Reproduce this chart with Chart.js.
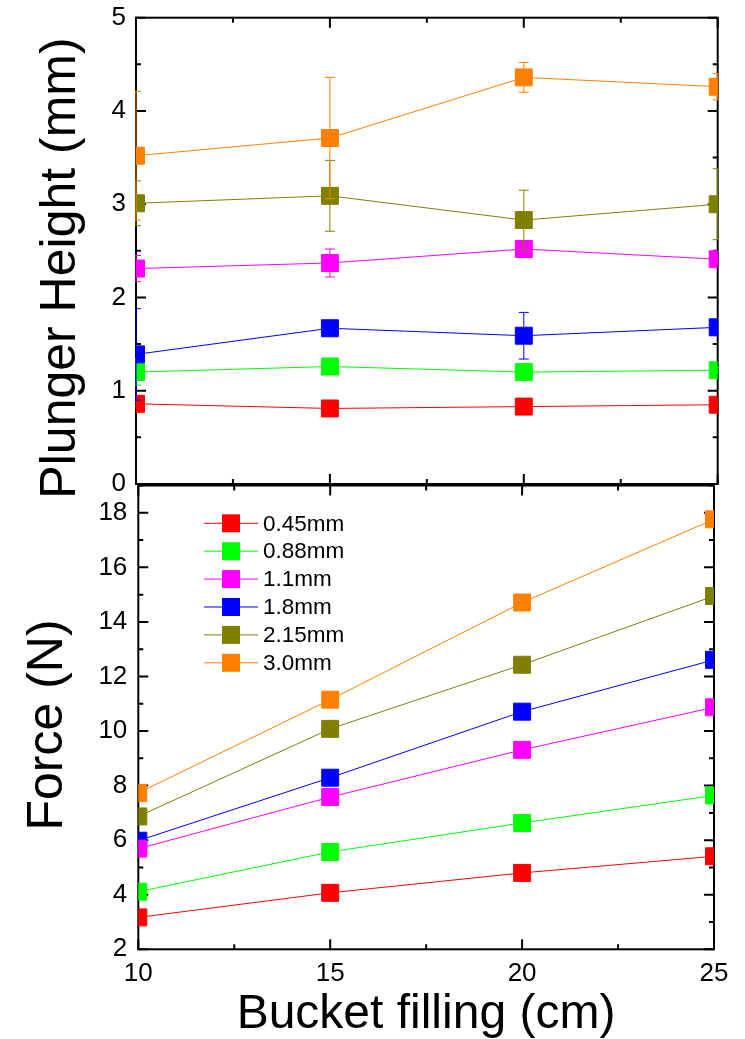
<!DOCTYPE html>
<html>
<head>
<meta charset="utf-8">
<title>Plunger height and force vs bucket filling</title>
<script src="https://cdn.jsdelivr.net/npm/chart.js@4/dist/chart.umd.min.js"></script>
<style>
  body { margin: 0; background: #fff; }
  #wrap { position: relative; width: 745px; height: 1039px; }
  #plungerChart { position: absolute; left: 0; top: 0; }
  #forceChart { position: absolute; left: 0; top: 470px; }
</style>
</head>
<body>
<div id="wrap">
  <canvas id="plungerChart" width="745" height="500"></canvas>
  <canvas id="forceChart" width="745" height="569"></canvas>
</div>
<script>

// bucket filling levels (cm) and the six plunger diameters
var fillLevels = [10, 15, 20, 25];
var fillTicks = [10, 15, 20, 25];
var seriesNames = ["0.45mm", "0.88mm", "1.1mm", "1.8mm", "2.15mm", "3.0mm"];
var seriesColors = ["#ff0000", "#00ff00", "#ff00ff", "#0000ff", "#808000", "#ff8000"];

// plunger height (mm), mean values
var height045 = [0.86, 0.81, 0.83, 0.85];
var height088 = [1.20, 1.26, 1.20, 1.22];
var height110 = [2.31, 2.37, 2.52, 2.41];
var height180 = [1.39, 1.67, 1.59, 1.68];
var height215 = [3.01, 3.09, 2.83, 3.00];
var height300 = [3.52, 3.71, 4.36, 4.26];

// plunger height (mm), +/- error
var heightErr045 = [0.03, 0.03, 0.03, 0.03];
var heightErr088 = [0.14, 0.03, 0.03, 0.03];
var heightErr110 = [0.14, 0.15, 0.05, 0.05];
var heightErr180 = [0.49, 0.05, 0.25, 0.05];
var heightErr215 = [0.24, 0.38, 0.32, 0.38];
var heightErr300 = [0.69, 0.65, 0.16, 0.14];
var heightTicks = [0, 1, 2, 3, 4, 5];

// force (N)
var force045 = [3.17, 4.07, 4.80, 5.41];
var force088 = [4.11, 5.57, 6.63, 7.64];
var force110 = [5.69, 7.58, 9.31, 10.87];
var force180 = [5.98, 8.29, 10.71, 12.61];
var force215 = [6.87, 10.08, 12.43, 14.95];
var force300 = [7.73, 11.15, 14.71, 17.76];
var forceTicks = [2, 4, 6, 8, 10, 12, 14, 16, 18];

var FONT = "'Liberation Sans', Arial, Helvetica, sans-serif";
Chart.defaults.font.family = FONT;
Chart.defaults.color = "#000";


function points(ys){
    return fillLevels.map(function (x, i) { return {x: x, y: ys[i]}; });
}

function make_datasets(values, errors, lastOnTop){
    return values.map(function (ys, i) {
        return {
            label: seriesNames[i],
            data: points(ys),
            errors: errors ? errors[i] : null,
            borderColor: seriesColors[i],
            backgroundColor: seriesColors[i],
            borderWidth: 1,
            fill: false,
            tension: 0,
            pointStyle: "rect",
            pointRadius: 12,
            pointHoverRadius: 12,
            pointBorderWidth: 1,
            pointBackgroundColor: seriesColors[i],
            pointBorderColor: seriesColors[i],
            order: lastOnTop ? values.length - i : 0,
            clip: {left: 0, right: 0, top: 10, bottom: 10}
        };
    });
}

function fixed_ticks(list){
    return function (scale) {
        scale.ticks = list.map(function (v) { return {value: v}; });
    };
}

// pin an axis box to a fixed size and drop the label overhang padding
function pin_size(key, size){
    return function (scale) {
        scale[key] = size;
        scale.paddingTop = 0;
        scale.paddingBottom = 0;
        scale.paddingLeft = 0;
        scale.paddingRight = 0;
    };
}

function is_major(v, step){
    var r = v / step;
    return Math.abs(r - Math.round(r)) < 1e-6;
}

// box frame with inward ticks on all four sides
var framePlugin = {
    id: "frame",
    beforeDatasetsDraw: function (chart, args, opts) {
        var ctx = chart.ctx, a = chart.chartArea;
        var xs = chart.scales.x, ys = chart.scales.y;
        var v, p, len;
        ctx.save();
        ctx.strokeStyle = "#000";
        ctx.lineWidth = 2;
        ctx.strokeRect(a.left, a.top, a.right - a.left, a.bottom - a.top);
        ctx.beginPath();
        for (v = xs.min; v <= xs.max + 1e-9; v += opts.xMinor) {
            len = is_major(v, opts.xMajor) ? 10 : 5;
            p = xs.getPixelForValue(v);
            ctx.moveTo(p, a.bottom); ctx.lineTo(p, a.bottom - len);
            ctx.moveTo(p, a.top); ctx.lineTo(p, a.top + len);
        }
        for (v = ys.min; v <= ys.max + 1e-9; v += opts.yMinor) {
            len = is_major(v, opts.yMajor) ? 10 : 5;
            p = ys.getPixelForValue(v);
            ctx.moveTo(a.left, p); ctx.lineTo(a.left + len, p);
            ctx.moveTo(a.right, p); ctx.lineTo(a.right - len, p);
        }
        ctx.stroke();
        ctx.restore();
    }
};

// vertical error bars with caps, drawn right after their own series
var errorBarPlugin = {
    id: "errorBars",
    afterDatasetDraw: function (chart, args) {
        var ds = chart.data.datasets[args.index];
        if (!ds.errors) return;
        var ctx = chart.ctx, a = chart.chartArea;
        var xs = chart.scales.x, ys = chart.scales.y;
        ctx.save();
        ctx.beginPath();
        ctx.rect(a.left - 1, a.top, a.right - a.left + 2, a.bottom - a.top);
        ctx.clip();
        ctx.strokeStyle = ds.borderColor;
        ctx.lineWidth = 1;
        ctx.beginPath();
        ds.data.forEach(function (pt, i) {
            var e = ds.errors[i];
            var px = xs.getPixelForValue(pt.x);
            var hi = ys.getPixelForValue(pt.y + e);
            var lo = ys.getPixelForValue(pt.y - e);
            ctx.moveTo(px, hi); ctx.lineTo(px, lo);
            ctx.moveTo(px - 5, hi); ctx.lineTo(px + 5, hi);
            ctx.moveTo(px - 5, lo); ctx.lineTo(px + 5, lo);
        });
        ctx.stroke();
        ctx.restore();
    }
};

// big axis titles
var titlePlugin = {
    id: "bigTitles",
    afterDraw: function (chart, args, opts) {
        var ctx = chart.ctx;
        opts.items.forEach(function (t) {
            ctx.save();
            ctx.translate(t.x, t.y);
            if (t.rotate) ctx.rotate(-Math.PI / 2);
            ctx.font = t.size + "px " + FONT;
            ctx.fillStyle = "#000";
            ctx.textAlign = "center";
            ctx.textBaseline = "alphabetic";
            ctx.fillText(t.text, 0, 0);
            ctx.restore();
        });
    }
};

// legend inside the force panel: line + square symbol + name
var symbolLegendPlugin = {
    id: "symbolLegend",
    afterDatasetsDraw: function (chart, args, opts) {
        var ctx = chart.ctx;
        ctx.save();
        ctx.font = opts.fontSize + "px " + FONT;
        ctx.textAlign = "left";
        ctx.textBaseline = "middle";
        chart.data.datasets.forEach(function (ds, i) {
            var y = opts.y + i * opts.rowHeight;
            var mid = opts.x + opts.lineWidth / 2;
            ctx.strokeStyle = ds.borderColor;
            ctx.lineWidth = 1;
            ctx.beginPath();
            ctx.moveTo(opts.x, y);
            ctx.lineTo(opts.x + opts.lineWidth, y);
            ctx.stroke();
            ctx.fillStyle = ds.backgroundColor;
            ctx.fillRect(mid - opts.box / 2, y - opts.box / 2, opts.box, opts.box);
            ctx.fillStyle = "#000";
            ctx.fillText(ds.label, opts.x + opts.lineWidth + 5, y + 1);
        });
        ctx.restore();
    }
};


function get_plunger_chart(){

    var values = [height045, height088, height110, height180, height215, height300];
    var errors = [heightErr045, heightErr088, heightErr110, heightErr180, heightErr215, heightErr300];

    new Chart("plungerChart", {
        type: "line",
        data: { datasets: make_datasets(values, errors, true) },
        plugins: [framePlugin, errorBarPlugin, titlePlugin],
        options: {
            responsive: false,
            animation: false,
            events: [],
            layout: { autoPadding: false, padding: {left: 0, right: 27.3, top: 17.7, bottom: 16} },
            scales: {
                x: {
                    type: "linear", min: 10, max: 25,
                    afterBuildTicks: fixed_ticks(fillTicks),
                    ticks: { display: false },
                    grid: { display: false, drawTicks: false },
                    border: { display: false },
                    afterFit: pin_size("height", 0)
                },
                y: {
                    min: 0, max: 5,
                    afterBuildTicks: fixed_ticks(heightTicks),
                    ticks: { font: {size: 26}, color: "#000", padding: 10 },
                    grid: { display: false, drawTicks: false },
                    border: { display: false },
                    afterFit: pin_size("width", 136)
                }
            },
            plugins: {
                legend: { display: false },
                tooltip: { enabled: false },
                frame: { xMinor: 2.5, xMajor: 5, yMinor: 0.5, yMajor: 1 },
                bigTitles: { items: [
                    {text: "Plunger Height (mm)", x: 75, y: 268, size: 50, rotate: true}
                ] }
            }
        }
    });

}//get_plunger_chart


function get_force_chart(){

    var values = [force045, force088, force110, force180, force215, force300];

    new Chart("forceChart", {
        type: "line",
        data: { datasets: make_datasets(values, null, false) },
        plugins: [framePlugin, titlePlugin, symbolLegendPlugin],
        options: {
            responsive: false,
            animation: false,
            events: [],
            layout: { autoPadding: false, padding: {left: 0, right: 31, top: 15.5, bottom: 29.7} },
            scales: {
                x: {
                    type: "linear", min: 10, max: 25,
                    afterBuildTicks: fixed_ticks(fillTicks),
                    ticks: { font: {size: 26}, color: "#000", padding: 9, maxRotation: 0 },
                    grid: { display: false, drawTicks: false },
                    border: { display: false },
                    afterFit: pin_size("height", 60)
                },
                y: {
                    min: 2, max: 19,
                    afterBuildTicks: fixed_ticks(forceTicks),
                    ticks: { font: {size: 26}, color: "#000", padding: 11 },
                    grid: { display: false, drawTicks: false },
                    border: { display: false },
                    afterFit: pin_size("width", 138.3)
                }
            },
            plugins: {
                legend: { display: false },
                tooltip: { enabled: false },
                frame: { xMinor: 2.5, xMajor: 5, yMinor: 1, yMajor: 2 },
                bigTitles: { items: [
                    {text: "Force (N)", x: 62, y: 255, size: 50, rotate: true},
                    {text: "Bucket filling (cm)", x: 426, y: 558, size: 48, rotate: false}
                ] },
                symbolLegend: { x: 204, y: 53.3, rowHeight: 27.9, lineWidth: 54, box: 18, fontSize: 22.5 }
            }
        }
    });

}//get_force_chart


get_plunger_chart()
get_force_chart()

</script>
</body>
</html>
